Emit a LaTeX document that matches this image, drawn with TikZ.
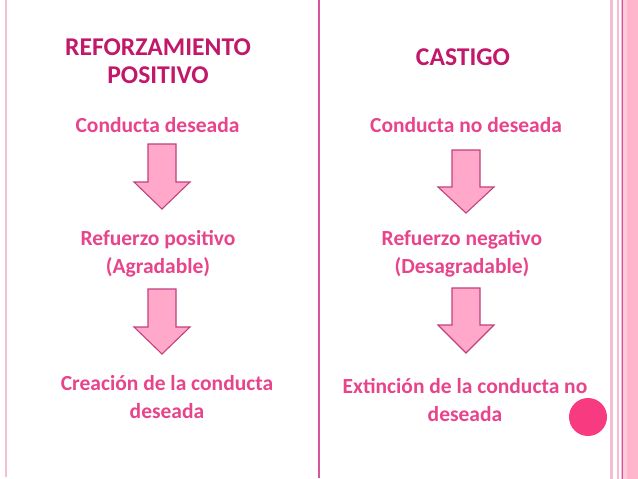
\documentclass[tikz,border=0pt]{standalone}
\usepackage{fontspec}
\setmainfont{Carlito}
\begin{document}
\begin{tikzpicture}[x=1pt,y=-1pt,
  title/.style={text=titlecol,font=\bfseries\fontsize{25.6}{28}\selectfont,align=center},
  body/.style={text=bodycol,font=\bfseries\fontsize{21.5}{27.5}\selectfont,align=center},
  downarrow/.style={fill=arrowfill,draw=arrowline,line width=1.1pt,line join=miter}]
\definecolor{titlecol}{HTML}{C2186A}
\definecolor{bodycol}{HTML}{E8448C}
\definecolor{arrowfill}{HTML}{FFA8C9}
\definecolor{arrowline}{HTML}{C2407E}
\definecolor{midline}{HTML}{D9559B}
\definecolor{lightline}{HTML}{F4BDD0}
\definecolor{stripefill}{HTML}{FFB5CC}
\definecolor{dotcol}{HTML}{F83A80}
\useasboundingbox (0,0) rectangle (638,479);
\fill[white] (0,0) rectangle (638,479);
% frame lines
\draw[lightline,line width=2pt] (5.5,0) -- (5.5,477);
\draw[midline,line width=2pt] (318.5,0) -- (318.5,478);
\fill[lightline] (610,0) rectangle (612.5,479);
\fill[lightline] (616.5,0) rectangle (619,479);
\fill[stripefill] (621,0) rectangle (638,479);
\fill[midline] (621.5,0) rectangle (622.8,479);
\fill[stripefill!70!white] (623,0) rectangle (627,479);
% titles
\node[title] (t1) at (158,61) {REFORZAMIENTO\\POSITIVO};
\node[title] (t2) at (463,57) {CASTIGO};
% left column
\node[body] (l1) at (157.5,125) {Conducta deseada};
\node[body] (l2) at (158,254) {Refuerzo positivo\\(Agradable)};
\node[body] (l3) at (167,397) {Creación de la conducta\\deseada};
% right column
\node[body] (r1) at (466,125) {Conducta no deseada};
\node[body] (r2) at (462,254) {Refuerzo negativo\\(Desagradable)};
\node[body] (r3) at (465,400) {Extinción de la conducta no\\deseada};
% arrows
\draw[downarrow] (148,144) -- (176,144) -- (176,182) -- (190,182) -- (162,209) -- (134,182) -- (148,182) -- cycle;
\draw[downarrow] (148,289) -- (176,289) -- (176,327) -- (190,327) -- (162,354) -- (134,327) -- (148,327) -- cycle;
\draw[downarrow] (452,150) -- (480,150) -- (480,187) -- (494,187) -- (466,213) -- (438,187) -- (452,187) -- cycle;
\draw[downarrow] (452,288) -- (480,288) -- (480,325) -- (494,325) -- (466,353) -- (438,325) -- (452,325) -- cycle;
% dot
\fill[dotcol] (588,417) circle (19);
\end{tikzpicture}
\end{document}
